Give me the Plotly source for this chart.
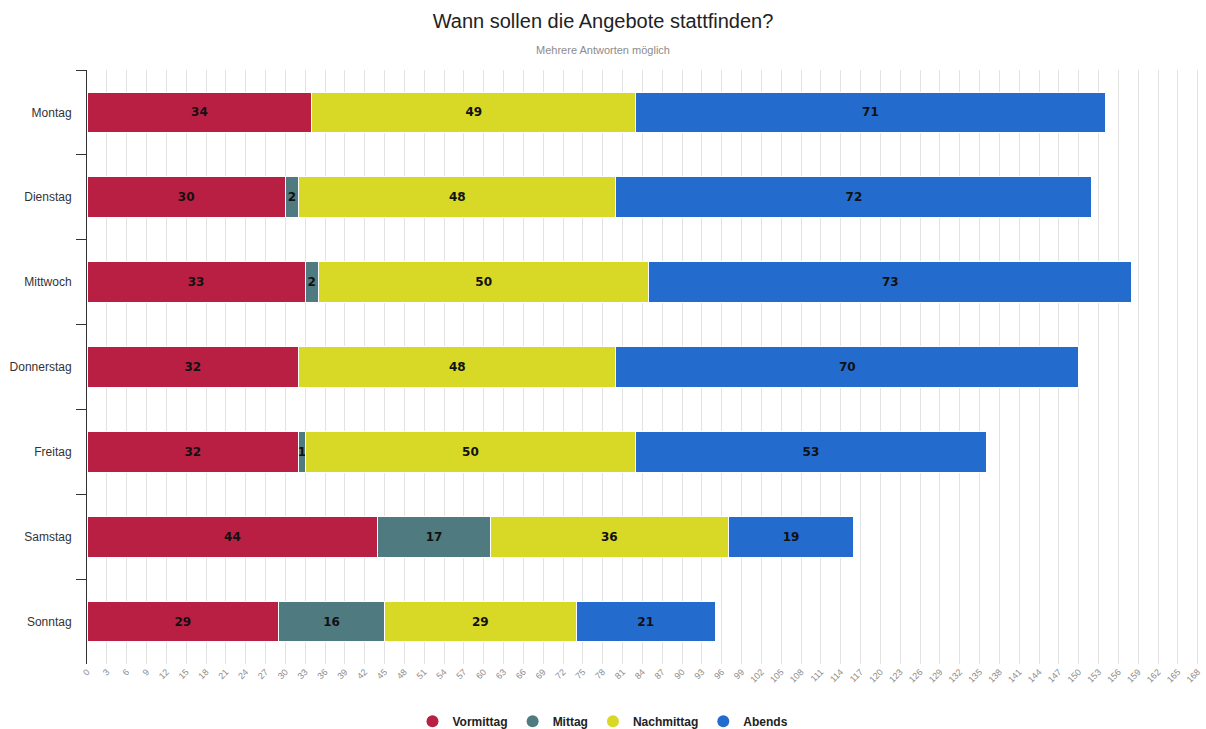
import plotly.graph_objects as go

days = ["Montag", "Dienstag", "Mittwoch", "Donnerstag", "Freitag", "Samstag", "Sonntag"]
vormittag = [34, 30, 33, 32, 32, 44, 29]
mittag = [0, 2, 2, 0, 1, 17, 16]
nachmittag = [49, 48, 50, 48, 50, 36, 29]
abends = [71, 72, 73, 70, 53, 19, 21]

series = [
    ("Vormittag", vormittag, "#b91f43"),
    ("Mittag", mittag, "#4e7a80"),
    ("Nachmittag", nachmittag, "#d8d826"),
    ("Abends", abends, "#246bce"),
]

fig = go.Figure()
for name, vals, color in series:
    fig.add_trace(go.Bar(
        y=days, x=[v if v else None for v in vals], name=name, orientation="h",
        marker=dict(color=color, line=dict(color="white", width=1)),
        text=[str(v) if v else "" for v in vals],
        textposition="inside", insidetextanchor="middle", textangle=0,
        textfont=dict(color="#111", size=12, family="DejaVu Sans", weight="bold"),
        hoverinfo="x+name", showlegend=False, legendgroup=name,
    ))
for name, vals, color in series:
    fig.add_trace(go.Scatter(
        x=[None], y=[None], mode="markers", name=name, legendgroup=name,
        marker=dict(color=color, size=15, symbol="circle"),
    ))

fig.update_layout(
    barmode="stack",
    bargap=0.52,
    width=1206, height=729,
    margin=dict(l=87, r=7, t=70, b=65, autoexpand=False),
    paper_bgcolor="white", plot_bgcolor="white",
    uniformtext=dict(minsize=12, mode="show"),
    title=dict(
        text="Wann sollen die Angebote stattfinden?<br><span style='font-size:11px;color:#8c8c8c'>Mehrere Antworten möglich</span>",
        x=0.5, xanchor="center", y=0.961, yanchor="top",
        font=dict(family="Liberation Sans", size=20, color="#222"),
    ),
    legend=dict(
        orientation="h", xref="container", x=0.5, xanchor="center", y=-0.072, yanchor="top",
        font=dict(family="Liberation Sans", size=12, color="#222", weight="bold"),
        itemsizing="constant", traceorder="normal",
    ),
    xaxis=dict(
        range=[0, 168.2], dtick=3, tick0=0, tickangle=-45,
        showgrid=True, gridcolor="#e3e3e3", gridwidth=1,
        tickfont=dict(family="Liberation Sans", size=9, color="#8c8c8c"),
        zeroline=False, showline=False, ticks="",
    ),
    yaxis=dict(
        autorange="reversed", showline=True, linecolor="#333", linewidth=1,
        ticks="outside", tickson="boundaries", ticklen=10, tickcolor="#333",
        ticklabelstandoff=12,
        tickfont=dict(family="Liberation Sans", size=12, color="#333"),
        showgrid=False,
    ),
)

fig.write_html("out.html")
